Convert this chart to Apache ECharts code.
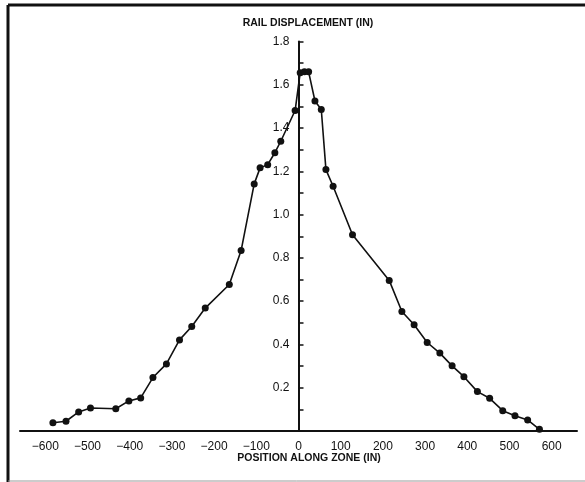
<!DOCTYPE html>
<html>
<head>
<meta charset="utf-8">
<script src="https://cdn.jsdelivr.net/npm/echarts@6/dist/echarts.min.js"></script>
<style>
  html, body { margin: 0; padding: 0; background: #fff; }
  #chart { width: 585px; height: 482px; }
</style>
</head>
<body>
<div id="chart"></div>
<script>
// data
var position = [-582, -551, -521, -493, -433, -402, -374, -345, -313, -282, -253, -221, -164, -136,
    -105, -91, -73, -56, -42, -8, 4, 14, 24, 39, 54, 65, 82, 128, 215, 245, 274, 305, 335, 364,
    392, 424, 453, 484, 513, 543, 571];
var displacement = [0.038, 0.045, 0.088, 0.106, 0.103, 0.139, 0.153, 0.247, 0.310, 0.421, 0.483,
    0.568, 0.677, 0.834, 1.142, 1.216, 1.231, 1.286, 1.339, 1.481, 1.656, 1.660, 1.660, 1.525,
    1.486, 1.208, 1.131, 0.907, 0.696, 0.552, 0.491, 0.409, 0.360, 0.301, 0.251, 0.182, 0.151,
    0.094, 0.071, 0.051, 0.008];
var xTicks = [-600, -500, -400, -300, -200, -100, 0, 100, 200, 300, 400, 500, 600];
var yLabels = [0.2, 0.4, 0.6, 0.8, 1.0, 1.2, 1.4, 1.6, 1.8];

var points = [];
for (var i = 0; i < position.length; i++) {
    points.push([position[i], displacement[i]]);
}

var gridLeft = 20, gridRight = 8, xMin = -660, xMax = 660;
var plotW = 585 - gridLeft - gridRight;
// shift the y axis from the grid edge to x = 0
var yOffset = -plotW * (0 - xMin) / (xMax - xMin);

var myChart = echarts.init(document.getElementById('chart'));

var option = {
    animation: false,
    backgroundColor: '#fff',
    grid: {
        left: gridLeft,
        right: gridRight,
        top: 41.5,
        bottom: 51,
        containLabel: false,
        outerBoundsMode: 'none'
    },
    xAxis: {
        type: 'value',
        min: xMin,
        max: xMax,
        axisLine: { show: true, onZero: true, lineStyle: { color: '#111', width: 2 } },
        axisTick: { show: false },
        splitLine: { show: false },
        axisLabel: {
            customValues: xTicks,
            margin: 10,
            color: '#111',
            fontFamily: 'Liberation Sans',
            fontSize: 12,
            formatter: function (v) {
                return v < 0 ? '\u2212' + (-v) : String(v);
            }
        }
    },
    yAxis: {
        type: 'value',
        min: 0,
        max: 1.8,
        interval: 0.1,
        offset: yOffset,
        axisLine: { show: true, onZero: false, lineStyle: { color: '#111', width: 2 } },
        axisTick: { show: true, inside: true, length: 5, lineStyle: { color: '#111', width: 1.5 } },
        splitLine: { show: false },
        axisLabel: {
            margin: 9,
            color: '#111',
            fontFamily: 'Liberation Sans',
            fontSize: 12,
            formatter: function (v) {
                for (var k = 0; k < yLabels.length; k++) {
                    if (Math.abs(v - yLabels[k]) < 1e-6) return yLabels[k].toFixed(1);
                }
                return '';
            }
        }
    },
    series: [{
        type: 'line',
        data: points,
        symbol: 'circle',
        symbolSize: 7,
        itemStyle: { color: '#111' },
        lineStyle: { color: '#111', width: 1.6 },
        z: 5
    }],
    graphic: [
        // scanned frame
        { type: 'line', shape: { x1: 8, y1: 5, x2: 585, y2: 5 }, style: { stroke: '#111', lineWidth: 3 } },
        { type: 'line', shape: { x1: 8, y1: 5, x2: 8, y2: 482 }, style: { stroke: '#111', lineWidth: 3 } },
        { type: 'line', shape: { x1: 8, y1: 481, x2: 585, y2: 481 }, style: { stroke: '#999', lineWidth: 1 } },
        {
            type: 'text', x: 308, y: 18,
            style: {
                text: 'RAIL DISPLACEMENT (IN)', fill: '#111', align: 'center',
                font: 'bold 10.5px "Liberation Sans Narrow", "Liberation Sans"'
            }
        },
        {
            type: 'text', x: 309, y: 453,
            style: {
                text: 'POSITION ALONG ZONE (IN)', fill: '#111', align: 'center',
                font: 'bold 10.5px "Liberation Sans Narrow", "Liberation Sans"'
            }
        }
    ]
};
myChart.setOption(option);
</script>
</body>
</html>
